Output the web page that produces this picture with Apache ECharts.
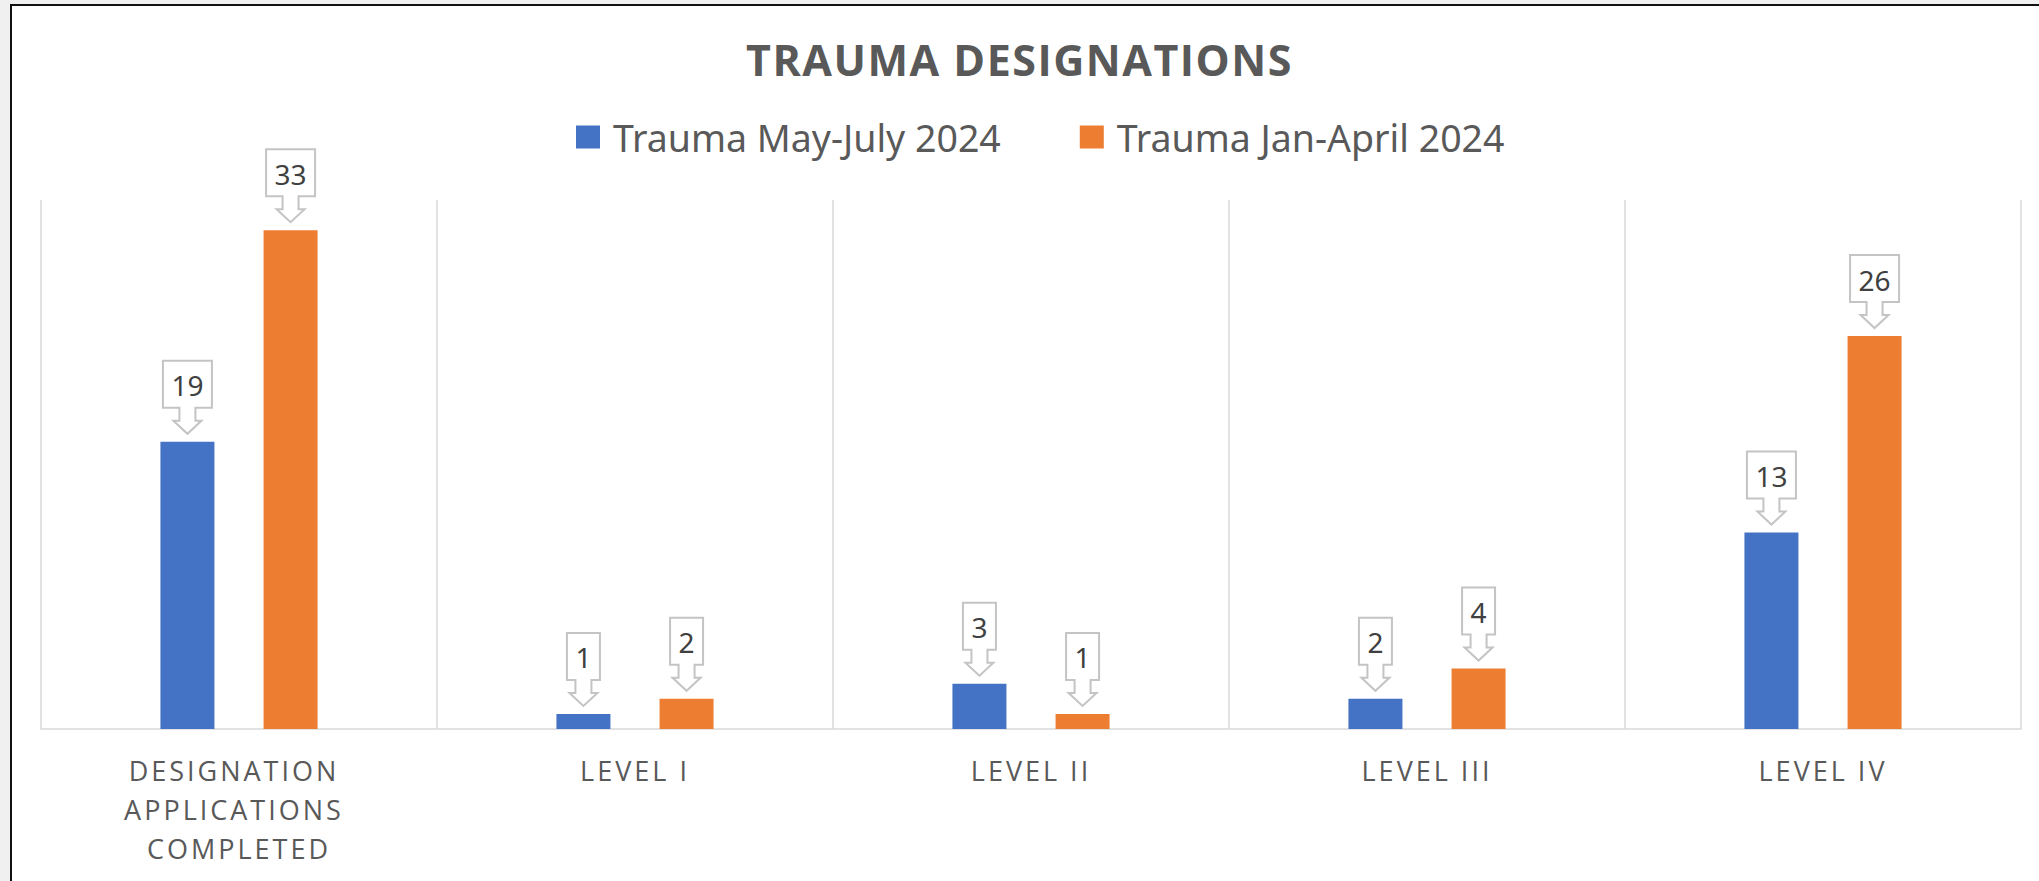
<!DOCTYPE html>
<html>
<head>
<meta charset="utf-8">
<script src="https://cdn.jsdelivr.net/npm/echarts@6/dist/echarts.min.js"></script>
<style>
  html, body { margin: 0; padding: 0; width: 2039px; height: 881px; overflow: hidden; background: #f0f0f0; }
  #frame { position: absolute; left: 10px; top: 4px; width: 2100px; height: 950px; background: #ffffff;
           border-left: 2px solid #111; border-top: 2px solid #111; }
  #chart { position: absolute; left: 0; top: 0; width: 2039px; height: 881px; }
  #chart text[style*="Open Sans"] { letter-spacing: 3px; }
  #chart text[style*="bold"][style*="Open Sans"] { letter-spacing: 1.5px; }
</style>
</head>
<body>
<div id="frame"></div>
<div id="chart"></div>
<script>
// ---- data ----
const titleText = 'TRAUMA DESIGNATIONS';
const categories = ['DESIGNATION APPLICATIONS COMPLETED', 'LEVEL I', 'LEVEL II', 'LEVEL III', 'LEVEL IV'];
const seriesNames = ['Trauma May-July 2024', 'Trauma Jan-April 2024'];
const mayJuly = [19, 1, 3, 2, 13];
const janApril = [33, 2, 1, 4, 26];

// ---- style constants ----
const BLUE = '#4472C4';
const ORANGE = '#ED7D31';
const BAR_W = 54;
const BAR_GAP = 0.91;
const OFFSET = (BAR_W + BAR_W * BAR_GAP) / 2;

function calloutSeries(values, dir) {
  return {
    type: 'custom',
    z: 10,
    silent: true,
    data: values.map((v, i) => [i, v]),
    encode: { x: 0, y: 1 },
    renderItem: function (params, api) {
      const p = api.coord([api.value(0), api.value(1)]);
      const x = p[0] + dir * OFFSET;
      const tip = p[1] - 8;
      const headStart = tip - 13;
      const boxBottom = tip - 26;
      const boxH = 47;
      const txt = String(api.value(1));
      const w = 17 + 16 * txt.length;
      const top = boxBottom - boxH;
      const pts = [
        [x - w / 2, top], [x + w / 2, top], [x + w / 2, boxBottom],
        [x + 8, boxBottom], [x + 8, headStart], [x + 14, headStart],
        [x, tip],
        [x - 14, headStart], [x - 8, headStart], [x - 8, boxBottom],
        [x - w / 2, boxBottom]
      ];
      return {
        type: 'group',
        children: [
          { type: 'polygon', shape: { points: pts },
            style: { fill: '#ffffff', stroke: '#c4c4c4', lineWidth: 2 } },
          { type: 'text',
            style: { text: txt, x: x, y: top + boxH / 2 + 1, align: 'center', verticalAlign: 'middle',
                     fontFamily: 'Noto Sans', fontSize: 28, fill: '#404040' } }
        ]
      };
    }
  };
}

const chart = echarts.init(document.getElementById('chart'), null, { renderer: 'svg' });
chart.setOption({
  animation: false,
  backgroundColor: 'transparent',
  title: {
    text: titleText,
    left: 'center',
    top: 38,
    padding: 0,
    textStyle: { fontFamily: 'Open Sans', fontWeight: 'bold', fontSize: 43, color: '#595959' }
  },
  legend: {
    data: seriesNames,
    left: 576,
    top: 115,
    padding: 0,
    itemWidth: 24,
    itemHeight: 23,
    itemGap: 79,
    icon: 'rect',
    textStyle: { fontFamily: 'Noto Sans', fontSize: 37.5, color: '#595959', lineHeight: 44, padding: [0, 0, 0, 8] }
  },
  grid: { left: 41, right: 18, top: 200, bottom: 152, containLabel: false },
  xAxis: {
    type: 'category',
    data: categories,
    axisLine: { show: true, lineStyle: { color: '#d9d9d9', width: 1.5 } },
    axisTick: { show: false },
    splitLine: { show: true, lineStyle: { color: '#d9d9d9', width: 1.5 } },
    axisLabel: {
      interval: 0,
      margin: 22,
      fontFamily: 'Open Sans',
      fontSize: 27,
      lineHeight: 39,
      color: '#595959',
      width: 330,
      overflow: 'break',
      align: 'center'
    }
  },
  yAxis: {
    type: 'value',
    min: 0,
    max: 35,
    show: false,
    splitLine: { show: false }
  },
  series: [
    { name: seriesNames[0], type: 'bar', data: mayJuly, barWidth: BAR_W, barGap: (BAR_GAP * 100) + '%',
      itemStyle: { color: BLUE } },
    { name: seriesNames[1], type: 'bar', data: janApril, barWidth: BAR_W,
      itemStyle: { color: ORANGE } },
    calloutSeries(mayJuly, -1),
    calloutSeries(janApril, 1)
  ]
});
</script>
</body>
</html>
